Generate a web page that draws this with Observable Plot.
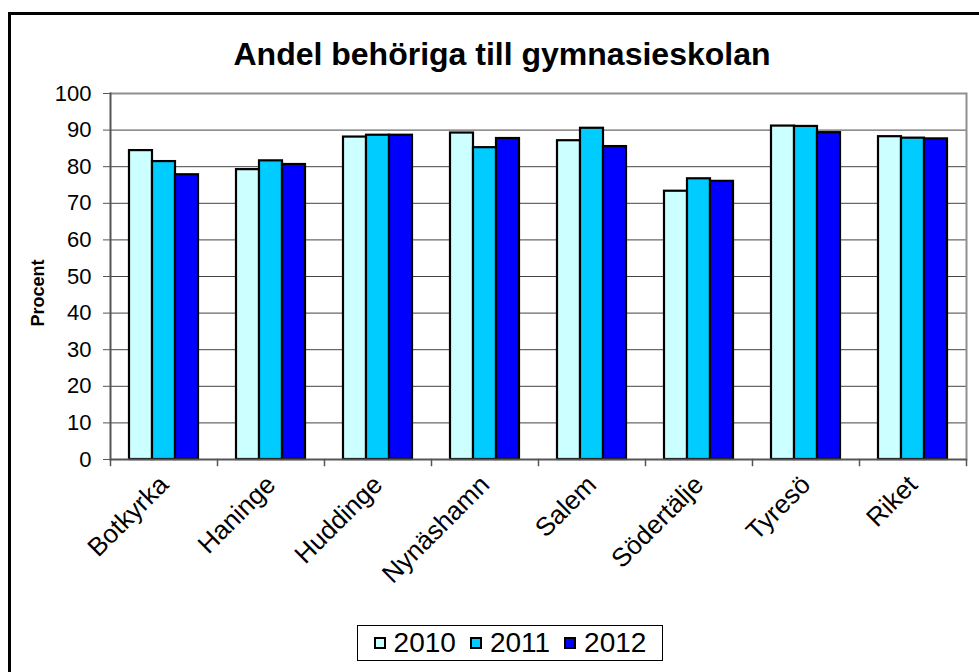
<!DOCTYPE html>
<html><head><meta charset="utf-8">
<script src="https://cdn.jsdelivr.net/npm/d3@7"></script>
<script src="https://cdn.jsdelivr.net/npm/@observablehq/plot@0.6"></script>
<style>
html,body{margin:0;padding:0;background:#fff;overflow:hidden;}
#wrap{position:relative;width:979px;height:672px;overflow:hidden;font-family:Arial,"Liberation Sans",sans-serif;color:#000;}
#border{position:absolute;left:8px;top:12px;width:1000px;height:700px;border:3px solid #000;box-sizing:border-box;z-index:2;}
#title{position:absolute;left:8px;top:36px;width:988px;text-align:center;font-weight:bold;font-size:32px;line-height:36px;}
#ylabel{position:absolute;left:38px;top:293px;transform:translate(-50%,-50%) rotate(-90deg);font-weight:bold;font-size:18px;white-space:nowrap;}
#legend{position:absolute;left:357px;top:625px;width:306px;height:36px;border:1px solid #000;box-sizing:border-box;display:flex;align-items:center;justify-content:center;gap:14px;font-size:28px;line-height:30px;}
#legend .it{display:flex;align-items:center;gap:8px;}
#legend .sw{width:12px;height:12px;border:2px solid #000;box-sizing:border-box;}
#chart{position:absolute;left:0;top:0;}
</style>
</head><body>
<div id="wrap">
  <div id="chart"></div>
  <div id="title"></div>
  <div id="ylabel"></div>
  <div id="legend"></div>
  <div id="border"></div>
</div>
<script>
const titleText = "Andel behöriga till gymnasieskolan";
const yLabel = "Procent";
const categories = ["Botkyrka","Haninge","Huddinge","Nynäshamn","Salem","Södertälje","Tyresö","Riket"];
const years = ["2010","2011","2012"];
const values2010 = [84.4,79.2,88.1,89.2,87.1,73.3,91.1,88.2];
const values2011 = [81.4,81.6,88.6,85.2,90.5,76.7,91.0,87.8];
const values2012 = [77.8,80.6,88.6,87.7,85.5,76.0,89.3,87.6];
const yearColors = ["#CCFFFF","#00CCFF","#0000FF"];
const yTicks = [0,10,20,30,40,50,60,70,80,90,100];

const series = [values2010, values2011, values2012];
const data = [];
categories.forEach((c, i) => years.forEach((y, j) => data.push({category: c, year: y, value: series[j][i]})));

document.getElementById("title").textContent = titleText;
document.getElementById("ylabel").textContent = yLabel;
const leg = document.getElementById("legend");
years.forEach((y, j) => {
  const it = document.createElement("div"); it.className = "it";
  const sw = document.createElement("div"); sw.className = "sw"; sw.style.background = yearColors[j];
  const t = document.createElement("span"); t.textContent = y;
  it.appendChild(sw); it.appendChild(t); leg.appendChild(it);
});

const chart = Plot.plot({
  width: 979, height: 672,
  marginLeft: 108, marginRight: 12, marginTop: 93, marginBottom: 213,
  style: {background: "transparent", fontFamily: "Arial, 'Liberation Sans', sans-serif", color: "#000"},
  fx: {domain: categories, padding: 0, label: null},
  x: {domain: years, paddingInner: 0, paddingOuter: 0.74, axis: null},
  y: {domain: [0, 100], label: null},
  color: {domain: years, range: yearColors},
  marks: [
    Plot.gridY(yTicks.filter(d => d > 0 && d < 100), {stroke: "#444", strokeOpacity: 1, strokeWidth: 1}),
    Plot.ruleY([100], {stroke: "#909090", strokeWidth: 2}),
    Plot.frame({anchor: "right", facetAnchor: "right", stroke: "#909090", strokeWidth: 2}),
    Plot.barY(data, {fx: "category", x: "year", y: "value", fill: "year", stroke: "#000", strokeWidth: 2.2}),
    Plot.ruleY([0], {stroke: "#555", strokeWidth: 2}),
    Plot.frame({anchor: "left", facetAnchor: "left", stroke: "#555", strokeWidth: 2}),
    Plot.frame({anchor: "left", insetTop: 366, insetBottom: -6, stroke: "#555", strokeWidth: 1.5}),
    Plot.frame({anchor: "right", facetAnchor: "right", insetTop: 366, insetBottom: -6, stroke: "#555", strokeWidth: 1.5}),
    Plot.axisY(yTicks, {tickSize: 7, tickPadding: 12, fontSize: 22, stroke: "#555", label: null}),
    Plot.axisFx({anchor: "bottom", tickSize: 0, tickPadding: 21, tickRotate: -45, fontSize: 26, label: null})
  ]
});
document.getElementById("chart").appendChild(chart);
</script>
</body></html>
